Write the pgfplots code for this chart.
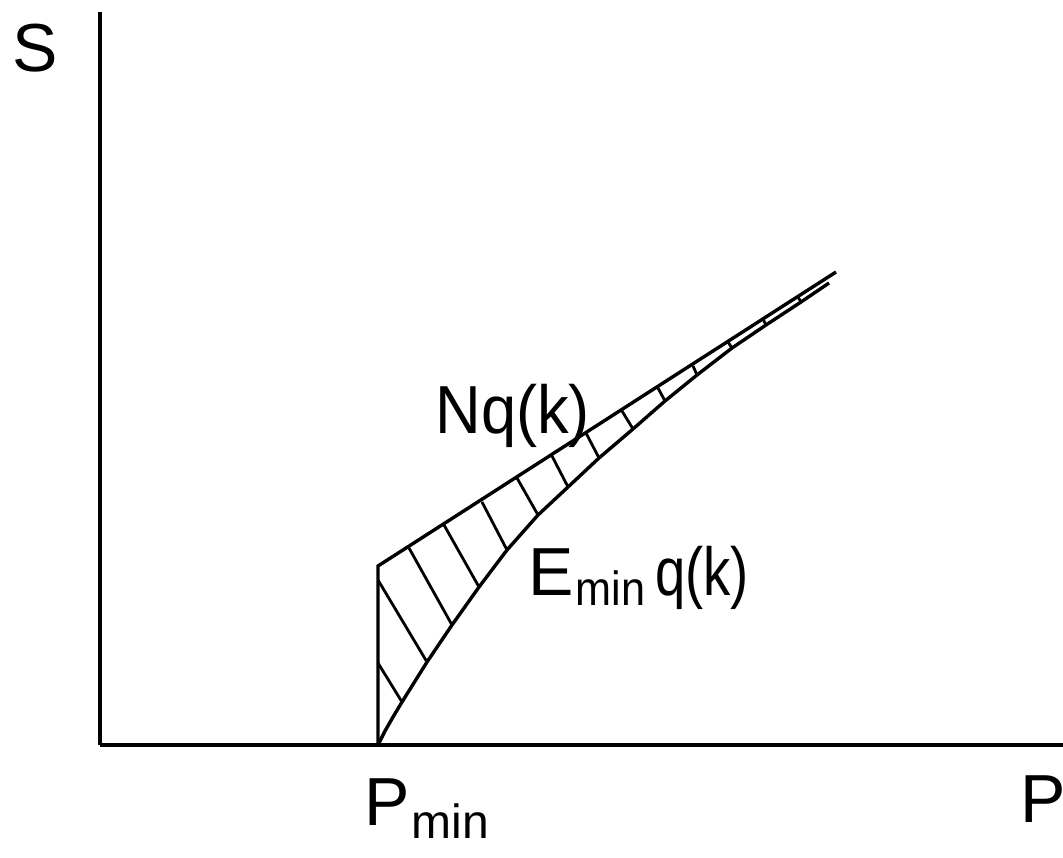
\documentclass[border=0pt]{standalone}
\usepackage{fontspec}
\setmainfont{Liberation Sans}
\usepackage{graphicx}
\usepackage{pgfplots}
\pgfplotsset{compat=1.18}

% Letter sizes for the hand-lettered labels
\newcommand{\bigfont}{\fontsize{34}{36}\selectfont}
\newcommand{\subfont}{\fontsize{24}{24}\selectfont}

\begin{document}
\begin{tikzpicture}
\useasboundingbox (-50pt,-56pt) rectangle (481.5pt,372.5pt);
\begin{axis}[
  at={(0,0)}, anchor=south west,
  scale only axis, width=481.5pt, height=366.5pt,
  xmin=0, xmax=9.63, ymin=0, ymax=7.33,
  axis x line=bottom, axis y line=left,
  axis line style={-, line width=2.2pt},
  xtick=\empty, ytick=\empty,
  clip=false,
  unbounded coords=jump,
]
% Upper bound N q(k), straight from the P_min corner
\addplot[black, line width=1.7pt] coordinates {(2.78,0) (2.78,1.79) (7.36,4.73)};

% Lower bound E_min q(k)
\addplot[black, line width=1.7pt] coordinates {
  (2.78,0) (2.85,0.14) (2.93,0.28) (3.02,0.43) (3.27,0.83) (3.52,1.20)
  (3.79,1.58) (4.07,1.95) (4.38,2.30) (4.68,2.58) (4.99,2.87)
  (5.33,3.16) (5.65,3.44) (5.97,3.70) (6.32,3.97) (6.66,4.20)
  (7.01,4.43) (7.29,4.62)};

% Hatching of the gap between the two bounds
\addplot[black, line width=1.4pt] coordinates {
  (2.78,0.82) (3.02,0.43) (nan,nan)
  (2.78,1.65) (3.27,0.83) (nan,nan)
  (3.09,1.97) (3.52,1.20) (nan,nan)
  (3.44,2.20) (3.79,1.58) (nan,nan)
  (3.82,2.43) (4.07,1.95) (nan,nan)
  (4.17,2.67) (4.38,2.30) (nan,nan)
  (4.52,2.89) (4.68,2.58) (nan,nan)
  (4.86,3.12) (4.99,2.87) (nan,nan)
  (5.22,3.34) (5.33,3.16) (nan,nan)
  (5.58,3.57) (5.65,3.44) (nan,nan)
  (5.93,3.79) (5.97,3.70) (nan,nan)
  (6.28,4.03) (6.32,3.97) (nan,nan)
  (6.63,4.26) (6.66,4.20) (nan,nan)
  (6.98,4.48) (7.01,4.43)};

% Labels
\node[anchor=base west, inner sep=0pt, font=\bigfont] at (axis cs:-0.88,6.73) {S};
\node[anchor=base west, inner sep=0pt, font=\bigfont] at (axis cs:9.20,-0.77) {P};
\node[anchor=base west, inner sep=0pt, font=\bigfont] at (axis cs:2.64,-0.80)
  {P\kern1pt\raisebox{-6.5pt}{\subfont min}};
\node[anchor=base west, inner sep=0pt, font=\bigfont] at (axis cs:3.35,3.12)
  {\scalebox{0.93}[1]{Nq(k)}};
\node[anchor=base west, inner sep=0pt, font=\bigfont] at (axis cs:4.28,1.50)
  {E\kern1pt\raisebox{-5pt}{\subfont\scalebox{0.9}[1]{min}}\kern5pt\scalebox{0.8}[1]{q(k)}};
\end{axis}
\end{tikzpicture}
\end{document}
